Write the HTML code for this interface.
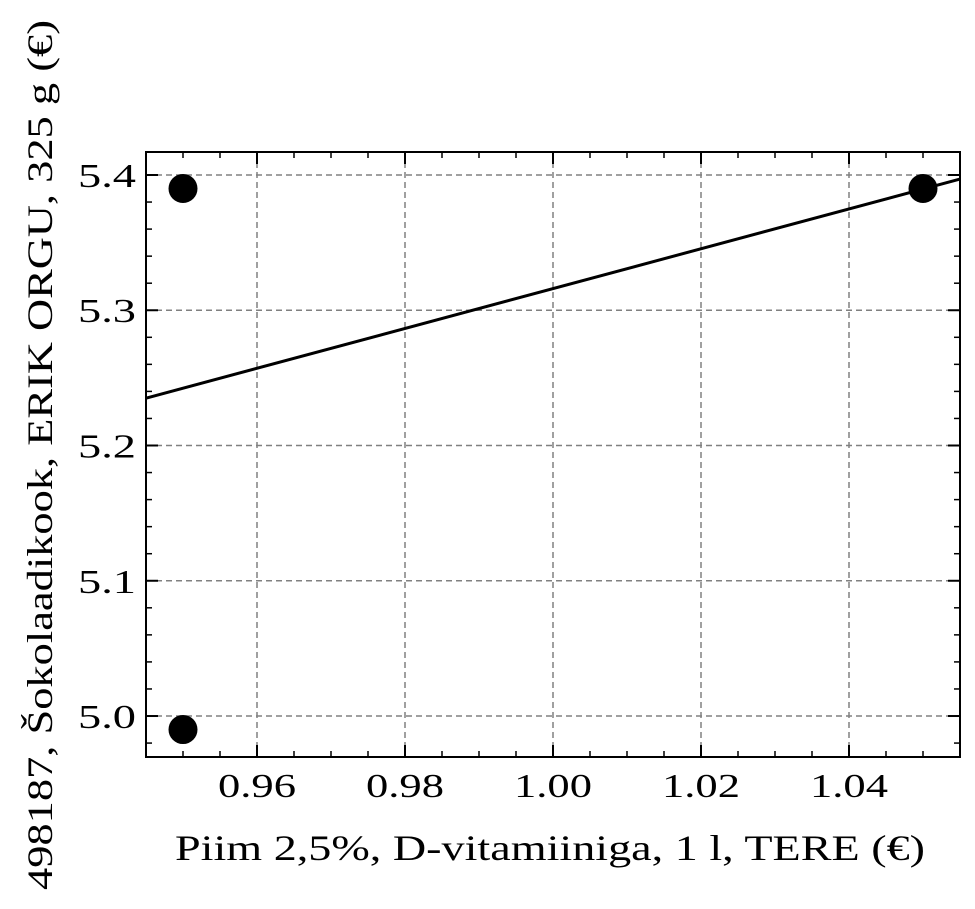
<!DOCTYPE html>
<html><head><meta charset="utf-8"><style>
html,body{margin:0;padding:0;background:#fff;}
svg{display:block;font-family:"Liberation Serif","DejaVu Serif",serif;}
</style></head><body>
<svg id="chart" width="975" height="909" viewBox="0 0 975 909" xmlns="http://www.w3.org/2000/svg">
<g id="grid"></g>
<g id="marks"></g>
<g id="axes"></g>
<text x="550" y="860" font-size="36" text-anchor="middle" textLength="750" lengthAdjust="spacingAndGlyphs">Piim 2,5%, D-vitamiiniga, 1 l, TERE (€)</text>
<text transform="translate(52,455) rotate(-90)" font-size="36" text-anchor="middle" textLength="870" lengthAdjust="spacingAndGlyphs">498187, Šokolaadikook, ERIK ORGU, 325 g (€)</text>
</svg>
<script>
const xTicks=[0.96,0.98,1.00,1.02,1.04];
const xTickLabels=["0.96","0.98","1.00","1.02","1.04"];
const yTicks=[5.0,5.1,5.2,5.3,5.4];
const yTickLabels=["5.0","5.1","5.2","5.3","5.4"];
const pointsX=[0.95,0.95,1.05];
const pointsY=[5.39,4.99,5.39];
const lineX=[0.945,1.055];
const lineY=[5.235,5.397];
const L=146,R=960,T=152,B=757;
const x0=0.945,x1=1.055,y0=4.9697,y1=5.417;
const sx=v=>L+(v-x0)/(x1-x0)*(R-L);
const sy=v=>B-(v-y0)/(y1-y0)*(B-T);
const NS="http://www.w3.org/2000/svg";
function mk(tag,attrs,parent){const e=document.createElementNS(NS,tag);for(const k in attrs)e.setAttribute(k,attrs[k]);parent.appendChild(e);return e;}
const grid=document.getElementById('grid'),marks=document.getElementById('marks'),axes=document.getElementById('axes');
xTicks.forEach((t,i)=>{
  const g=mk('line',{x1:sx(t),x2:sx(t),y1:T,y2:B,stroke:'#808080','stroke-width':1.5,'stroke-dasharray':'6,4'},grid);
  
  
  [[B,B-12],[T,T+12]].forEach(p=>{const l=mk('line',{x1:sx(t),x2:sx(t),y1:p[0],y2:p[1],stroke:'#000','stroke-width':2},axes);
  
  });
  const tx=mk('text',{x:sx(t),y:B+40,'font-size':34,'text-anchor':'middle',textLength:78,lengthAdjust:'spacingAndGlyphs'},axes);tx.textContent=xTickLabels[i];
  
  
});
yTicks.forEach((t,i)=>{
  const g=mk('line',{x1:L,x2:R,y1:sy(t),y2:sy(t),stroke:'#808080','stroke-width':1.5,'stroke-dasharray':'6,4'},grid);
  
  
  [[L,L+12],[R,R-12]].forEach(p=>{const l=mk('line',{x1:p[0],x2:p[1],y1:sy(t),y2:sy(t),stroke:'#000','stroke-width':2},axes);
  
  });
  const tx=mk('text',{x:L-10,y:sy(t)+12,'font-size':34,'text-anchor':'end',textLength:58,lengthAdjust:'spacingAndGlyphs'},axes);tx.textContent=yTickLabels[i];
  
  
});
for(let v=0.945;v<=1.0551;v+=0.005){
  const r=Math.round(v*1000)/1000; if(Math.abs(r*50-Math.round(r*50))<1e-6)continue;
  [[B,B-6],[T,T+6]].forEach(p=>{const l=mk('line',{x1:sx(r),x2:sx(r),y1:p[0],y2:p[1],stroke:'#000','stroke-width':1.5},axes);
  
  });
}
for(let v=4.98;v<=5.4101;v+=0.02){
  const r=Math.round(v*100)/100; if(Math.abs(r*10-Math.round(r*10))<1e-6)continue;
  [[L,L+6],[R,R-6]].forEach(p=>{const l=mk('line',{x1:p[0],x2:p[1],y1:sy(r),y2:sy(r),stroke:'#000','stroke-width':1.5},axes);
  
  });
}
const fit=mk('line',{x1:sx(lineX[0]),y1:sy(lineY[0]),x2:sx(lineX[1]),y2:sy(lineY[1]),stroke:'#000','stroke-width':3},marks);


pointsX.forEach((px,i)=>{
  const c=mk('circle',{cx:sx(px),cy:sy(pointsY[i]),r:14.5,fill:'#000'},marks);
  
  
});
const fr=mk('rect',{x:L,y:T,width:R-L,height:B-T,fill:'none',stroke:'#000','stroke-width':2},axes);


</script>
</body></html>
